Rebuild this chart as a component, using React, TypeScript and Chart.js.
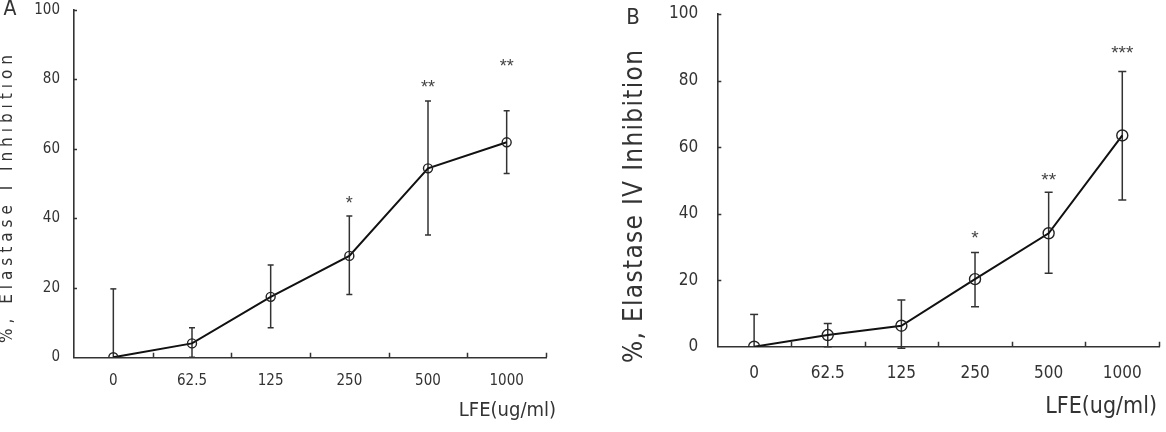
import React, { useEffect, useRef } from "react";
import { Chart, registerables } from "chart.js";

Chart.register(...registerables);

// ---------- data ----------
const categories = ["0", "62.5", "125", "250", "500", "1000"];
const yTickValues = [0, 20, 40, 60, 80, 100];

const meanA = [0, 4.0, 17.4, 29.2, 54.4, 61.9];
const errUpA = [19.7, 4.5, 9.2, 11.5, 19.4, 9.1];
const errDownA = [0, 4.0, 8.9, 11.1, 19.2, 9.0];
const starsA = ["", "", "", "*", "**", "**"];
const starLevelA = [0, 0, 0, 45.3, 78.6, 84.7];

const meanB = [0, 3.5, 6.3, 20.3, 34.1, 63.5];
const errUpB = [9.7, 3.5, 7.7, 8.0, 12.3, 19.2];
const errDownB = [0, 3.5, 6.8, 8.3, 12.0, 19.4];
const starsB = ["", "", "", "*", "**", "***"];
const starLevelB = [0, 0, 0, 33.6, 51.1, 89.4];

const NARROW = '"Liberation Sans Narrow", "DejaVu Sans Condensed", "Arial Narrow", sans-serif';
const INK = "#333333";

type Panel = {
  letter: string;
  yTitle: string;
  xTitle: string;
  mean: number[];
  errUp: number[];
  errDown: number[];
  stars: string[];
  starLevel: number[];
  canvasLeft: number;
  width: number;
  yAxisWidth: number;
  padRight: number;
  padTop: number;
  xAxisHeight: number;
  tickSize: number;
  xTickPad: number;
  yTickPad: number;
  titleSize: number;
  titleX: number;
  titleStart: number;
  titleEnd: number;
  xTitleSize: number;
  xTitleRight: number;
  xTitleY: number;
  letterSize: number;
  letterX: number;
  letterY: number;
  markerR: number;
  capHalf: number;
  starSize: number;
  xTickLen: number;
  yTickLen: number;
};

const panelA: Panel = {
  letter: "A",
  yTitle: "%, Elastase I Inhibition",
  xTitle: "LFE(ug/ml)",
  mean: meanA,
  errUp: errUpA,
  errDown: errDownA,
  stars: starsA,
  starLevel: starLevelA,
  canvasLeft: 0,
  width: 583,
  yAxisWidth: 74,
  padRight: 37,
  padTop: 10,
  xAxisHeight: 74.7,
  tickSize: 15,
  xTickPad: 15,
  yTickPad: 14,
  titleSize: 17,
  titleX: 8,
  titleStart: 343,
  titleEnd: 55,
  xTitleSize: 20,
  xTitleRight: 556,
  xTitleY: 411,
  letterSize: 21,
  letterX: 10,
  letterY: 9.5,
  markerR: 4.5,
  capHalf: 3,
  starSize: 18,
  xTickLen: 4.5,
  yTickLen: 3,
};

const panelB: Panel = {
  letter: "B",
  yTitle: "%, Elastase IV Inhibition",
  xTitle: "LFE(ug/ml)",
  mean: meanB,
  errUp: errUpB,
  errDown: errDownB,
  stars: starsB,
  starLevel: starLevelB,
  canvasLeft: 583,
  width: 583,
  yAxisWidth: 134.3,
  padRight: 2.7,
  padTop: 14,
  xAxisHeight: 85.3,
  tickSize: 17,
  xTickPad: 17,
  yTickPad: 19,
  titleSize: 26,
  titleX: 52,
  titleStart: 363,
  titleEnd: 50,
  xTitleSize: 23,
  xTitleRight: 574,
  xTitleY: 407,
  letterSize: 22,
  letterX: 50,
  letterY: 18.5,
  markerR: 5.5,
  capHalf: 4,
  starSize: 19,
  xTickLen: 5,
  yTickLen: 4,
};

function makePlugin(p: Panel) {
  return {
    id: "panelDecor" + p.letter,
    beforeDatasetsDraw(chart: any) {
      const ctx = chart.ctx;
      const xs = chart.scales.x;
      const ys = chart.scales.y;
      ctx.save();
      ctx.strokeStyle = INK;
      ctx.lineWidth = 1.5;
      p.mean.forEach((m, i) => {
        const x = xs.getPixelForValue(i);
        const yTop = ys.getPixelForValue(m + p.errUp[i]);
        const yBot = ys.getPixelForValue(m - p.errDown[i]);
        ctx.beginPath();
        ctx.moveTo(x, yTop);
        ctx.lineTo(x, yBot);
        ctx.stroke();
        ctx.beginPath();
        ctx.moveTo(x - p.capHalf, yTop);
        ctx.lineTo(x + p.capHalf, yTop);
        if (p.errDown[i] > 0) {
          ctx.moveTo(x - p.capHalf, yBot);
          ctx.lineTo(x + p.capHalf, yBot);
        }
        ctx.stroke();
      });
      ctx.restore();
    },
    afterDraw(chart: any) {
      const ctx = chart.ctx;
      const xs = chart.scales.x;
      const ys = chart.scales.y;
      const area = chart.chartArea;
      ctx.save();
      // inside tick marks
      ctx.strokeStyle = INK;
      ctx.lineWidth = 1.5;
      ctx.beginPath();
      for (let i = 0; i < categories.length; i++) {
        const x = Math.round(xs.getPixelForValue(i + 0.5)) + 0.5;
        ctx.moveTo(x, area.bottom);
        ctx.lineTo(x, area.bottom - p.xTickLen);
      }
      yTickValues.forEach((v) => {
        if (v === 0) return;
        const y = Math.round(ys.getPixelForValue(v)) + 0.5;
        ctx.moveTo(area.left, y);
        ctx.lineTo(area.left + p.yTickLen, y);
      });
      ctx.stroke();

      // significance stars
      ctx.fillStyle = "#444";
      ctx.font = `${p.starSize}px "Liberation Sans", sans-serif`;
      ctx.textAlign = "center";
      ctx.textBaseline = "middle";
      p.stars.forEach((s, i) => {
        if (!s) return;
        ctx.fillText(s, xs.getPixelForValue(i), ys.getPixelForValue(p.starLevel[i]) + p.starSize * 0.22);
      });

      // rotated y title with spread letters
      ctx.fillStyle = INK;
      ctx.font = `${p.titleSize}px ${NARROW}`;
      ctx.textAlign = "left";
      ctx.textBaseline = "middle";
      const chars = Array.from(p.yTitle);
      const widths = chars.map((c) => ctx.measureText(c).width);
      const total = p.titleStart - p.titleEnd;
      const sum = widths.reduce((a, b) => a + b, 0);
      const gap = (total - sum) / (chars.length - 1);
      ctx.translate(p.titleX, p.titleStart);
      ctx.rotate(-Math.PI / 2);
      let cx = 0;
      chars.forEach((c, i) => {
        ctx.fillText(c, cx, 0);
        cx += widths[i] + gap;
      });
      ctx.setTransform(1, 0, 0, 1, 0, 0);

      // x title
      ctx.font = `${p.xTitleSize}px ${NARROW}`;
      ctx.textAlign = "right";
      ctx.textBaseline = "middle";
      ctx.fillText(p.xTitle, p.xTitleRight, p.xTitleY);

      // panel letter
      ctx.font = `${p.letterSize}px ${NARROW}`;
      ctx.textAlign = "center";
      ctx.fillText(p.letter, p.letterX, p.letterY);
      ctx.restore();
    },
  };
}

function PanelChart({ p }: { p: Panel }) {
  const ref = useRef<HTMLCanvasElement>(null);
  useEffect(() => {
    if (!ref.current) return;
    const chart = new Chart(ref.current, {
      type: "line",
      data: {
        labels: categories,
        datasets: [
          {
            data: p.mean,
            borderColor: "#111",
            borderWidth: 2,
            tension: 0,
            pointStyle: "circle",
            pointRadius: p.markerR,
            pointBorderWidth: 1.4,
            pointBorderColor: "#222",
            pointBackgroundColor: "rgba(255,255,255,0)",
          },
        ],
      },
      options: {
        responsive: false,
        animation: false,
        events: [],
        layout: { padding: { left: 0, right: p.padRight, top: p.padTop, bottom: 0 } },
        plugins: { legend: { display: false }, tooltip: { enabled: false } },
        scales: {
          x: {
            type: "category",
            offset: true,
            grid: { display: false, drawTicks: false, offset: true },
            border: { display: true, color: INK, width: 1.6 },
            ticks: {
              font: { family: NARROW, size: p.tickSize },
              color: INK,
              padding: p.xTickPad,
              maxRotation: 0,
              autoSkip: false,
            },
            afterFit: (s: any) => {
              s.height = p.xAxisHeight;
              s.paddingLeft = 0;
              s.paddingRight = 0;
            },
          },
          y: {
            min: 0,
            max: 100,
            grid: { display: false, drawTicks: false },
            border: { display: true, color: INK, width: 1.6 },
            ticks: {
              stepSize: 20,
              font: { family: NARROW, size: p.tickSize },
              color: INK,
              padding: p.yTickPad,
            },
            afterFit: (s: any) => {
              s.width = p.yAxisWidth;
              s.paddingTop = 0;
              s.paddingBottom = 0;
            },
          },
        },
      },
      plugins: [makePlugin(p)],
    } as any);
    return () => chart.destroy();
  }, [p]);
  return (
    <canvas
      ref={ref}
      width={p.width}
      height={432}
      style={{ position: "absolute", left: p.canvasLeft, top: 0, width: p.width, height: 432 }}
    />
  );
}

export default function App() {
  return (
    <div
      style={{
        position: "fixed",
        left: 0,
        top: 0,
        width: 1166,
        height: 432,
        background: "#ffffff",
        overflow: "hidden",
      }}
    >
      <PanelChart p={panelA} />
      <PanelChart p={panelB} />
    </div>
  );
}
